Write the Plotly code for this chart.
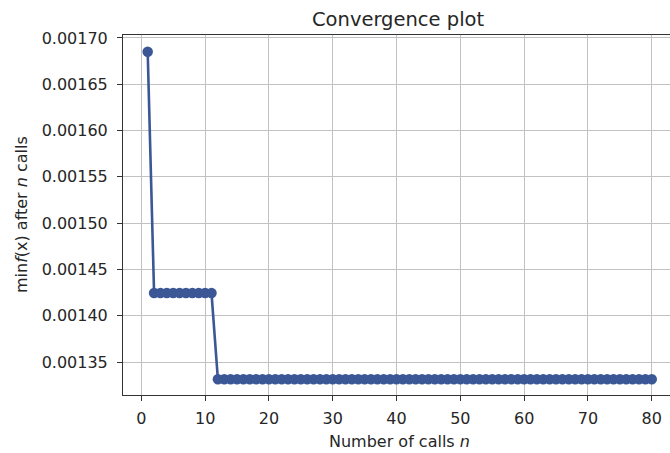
import plotly.graph_objects as go

# Number of objective calls
calls = list(range(1, 81))

# Best objective value found after n calls
best_so_far = [
    0.0016852,
    0.0014245, 0.0014245, 0.0014245, 0.0014245, 0.0014245,
    0.0014245, 0.0014245, 0.0014245, 0.0014245, 0.0014245,
    0.0013314, 0.0013314, 0.0013314, 0.0013314, 0.0013314,
    0.0013314, 0.0013314, 0.0013314, 0.0013314, 0.0013314,
    0.0013314, 0.0013314, 0.0013314, 0.0013314, 0.0013314,
    0.0013314, 0.0013314, 0.0013314, 0.0013314, 0.0013314,
    0.0013314, 0.0013314, 0.0013314, 0.0013314, 0.0013314,
    0.0013314, 0.0013314, 0.0013314, 0.0013314, 0.0013314,
    0.0013314, 0.0013314, 0.0013314, 0.0013314, 0.0013314,
    0.0013314, 0.0013314, 0.0013314, 0.0013314, 0.0013314,
    0.0013314, 0.0013314, 0.0013314, 0.0013314, 0.0013314,
    0.0013314, 0.0013314, 0.0013314, 0.0013314, 0.0013314,
    0.0013314, 0.0013314, 0.0013314, 0.0013314, 0.0013314,
    0.0013314, 0.0013314, 0.0013314, 0.0013314, 0.0013314,
    0.0013314, 0.0013314, 0.0013314, 0.0013314, 0.0013314,
    0.0013314, 0.0013314, 0.0013314, 0.0013314,
]

x_ticks = [0, 10, 20, 30, 40, 50, 60, 70, 80]
y_ticks = [0.00135, 0.00140, 0.00145, 0.00150, 0.00155, 0.00160, 0.00165, 0.00170]

W, H = 670, 453
M_L, M_R, M_T, M_B = 123, 0, 35, 58
PLOT_W = W - M_L - M_R
PLOT_H = H - M_T - M_B

FONT = "DejaVu Sans"
TEXT = "#262626"
LINE_COLOR = "#3b5795"
GRID = "#c2c2c2"


def px_to_paper(px, py):
    """Convert pixel position on the page to paper coordinates of the plot area."""
    return (px - M_L) / PLOT_W, (H - M_B - py) / PLOT_H


fig = go.Figure()
fig.add_trace(go.Scatter(
    x=calls, y=best_so_far,
    mode="lines+markers",
    line=dict(color=LINE_COLOR, width=2.6),
    marker=dict(color=LINE_COLOR, size=10.5, line=dict(width=0)),
    showlegend=False,
))

fig.update_layout(
    width=W, height=H,
    margin=dict(l=M_L, r=M_R, t=M_T, b=M_B),
    plot_bgcolor="white", paper_bgcolor="white",
    font=dict(family=FONT, size=16, color=TEXT),
)

fig.update_xaxes(
    range=[-2.87, 82.86],
    tickvals=x_ticks,
    ticks="outside", ticklen=5, tickwidth=1, tickcolor="#333",
    ticklabelstandoff=4,
    showline=True, linecolor="#333", linewidth=1, mirror=True,
    showgrid=True, gridcolor=GRID, gridwidth=1,
    zeroline=False,
    tickfont=dict(size=16, color=TEXT),
)
fig.update_yaxes(
    range=[0.0013144, 0.0017032],
    tickvals=y_ticks, tickformat=".5f",
    ticks="outside", ticklen=5, tickwidth=1, tickcolor="#333",
    ticklabelstandoff=6,
    showline=True, linecolor="#333", linewidth=1, mirror=False,
    showgrid=True, gridcolor=GRID, gridwidth=1,
    zeroline=False,
    tickfont=dict(size=16, color=TEXT),
)

# Title and axis labels
tx, ty = px_to_paper(398, 20)
fig.add_annotation(
    text="Convergence plot", x=tx, y=ty,
    xref="paper", yref="paper", xanchor="center", yanchor="middle",
    showarrow=False, font=dict(size=19.5, family=FONT, color=TEXT),
)
xx, xy = px_to_paper(400, 441)
fig.add_annotation(
    text="Number of calls <i>n</i>", x=xx, y=xy,
    xref="paper", yref="paper", xanchor="center", yanchor="middle",
    showarrow=False, font=dict(size=16, family=FONT, color=TEXT),
)
yx, yy = px_to_paper(21, 215)
fig.add_annotation(
    text="min<i>f</i>(x) after <i>n</i> calls", x=yx, y=yy,
    xref="paper", yref="paper", xanchor="center", yanchor="middle",
    textangle=-90,
    showarrow=False, font=dict(size=16, family=FONT, color=TEXT),
)

fig.write_html("out.html")
